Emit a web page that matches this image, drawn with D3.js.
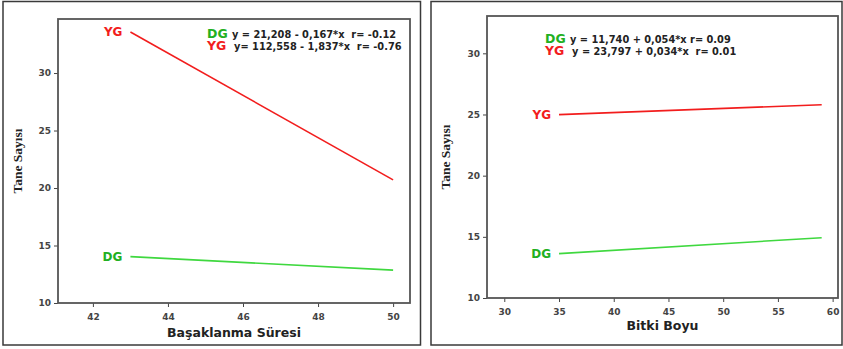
<!DOCTYPE html>
<html>
<head>
<meta charset="utf-8">
<script src="https://cdn.jsdelivr.net/npm/d3@7"></script>
<style>
  body { margin: 0; background: #fff; }
  svg { display: block; }
  .tick text { font-family: "DejaVu Sans", Verdana, sans-serif; font-weight: bold; font-size: 9px; fill: #444; }
  .tick line { stroke: #444; }
  .eq { white-space: pre; }
</style>
</head>
<body>
<svg id="chart" width="843" height="349"></svg>
<script>
// panel 1: Başaklanma Süresi
const leftXTicks = [42, 44, 46, 48, 50];
const leftYG = [[43, 33.57], [50, 20.71]];
const leftDG = [[43, 14.03], [50, 12.86]];
const leftEq = ['y = 21,208 - 0,167*x  r= -0.12', ' y= 112,558 - 1,837*x  r= -0.76'];

// panel 2: Bitki Boyu
const rightXTicks = [30, 35, 40, 45, 50, 55, 60];
const rightYG = [[35, 24.99], [59, 25.80]];
const rightDG = [[35, 13.63], [59, 14.93]];
const rightEq = ['y = 11,740 + 0,054*x r= 0.09', ' y = 23,797 + 0,034*x  r= 0.01'];

const yTicks = [10, 15, 20, 25, 30];
const red = '#f21d1d', green = '#3fd83f', greenText = '#22b022';

const svg = d3.select('#chart');

function panel(cfg) {
    const { frame, box, xDomain, yDomain, xTicks, yg, dg, eq, eqPos, xTitle, xTitleY, tickPad } = cfg;

    svg.append('rect')
        .attr('x', frame[0]).attr('y', frame[1])
        .attr('width', frame[2] - frame[0]).attr('height', frame[3] - frame[1])
        .attr('fill', 'none').attr('stroke', '#3a3a3a').attr('stroke-width', 1.5);

    const x = d3.scaleLinear().domain(xDomain).range([box[0], box[2]]);
    const y = d3.scaleLinear().domain(yDomain).range([box[3], box[1]]);

    svg.append('g')
        .attr('transform', `translate(0,${box[3]})`)
        .call(d3.axisBottom(x).tickValues(xTicks).tickSize(4).tickPadding(tickPad))
        .call(g => g.select('.domain').remove());

    svg.append('g')
        .attr('transform', `translate(${box[0]},0)`)
        .call(d3.axisLeft(y).tickValues(yTicks).tickSize(4).tickPadding(3))
        .call(g => g.select('.domain').remove());

    svg.append('rect')
        .attr('x', box[0]).attr('y', box[1])
        .attr('width', box[2] - box[0]).attr('height', box[3] - box[1])
        .attr('fill', 'none').attr('stroke', '#555').attr('stroke-width', 1.8);

    const line = d3.line().x(d => x(d[0])).y(d => y(d[1]));
    [[yg, red, 'YG', red], [dg, green, 'DG', greenText]].forEach(([pts, col, name, tcol]) => {
        svg.append('path').attr('d', line(pts))
            .attr('fill', 'none').attr('stroke', col).attr('stroke-width', 1.6);
        svg.append('text')
            .attr('x', x(pts[0][0]) - 8).attr('y', y(pts[0][1]) + 4)
            .attr('text-anchor', 'end')
            .attr('font-family', '"DejaVu Sans", Verdana, sans-serif')
            .attr('font-weight', 'bold').attr('font-size', 12)
            .attr('fill', tcol).text(name);
    });

    [['DG', greenText, eq[0]], ['YG', red, eq[1]]].forEach(([name, col, txt], i) => {
        const t = svg.append('text').attr('class', 'eq')
            .attr('x', eqPos[0]).attr('y', eqPos[1] + i * 12)
            .attr('font-family', '"DejaVu Sans", Verdana, sans-serif')
            .attr('font-weight', 'bold');
        t.append('tspan').attr('fill', col).attr('font-size', 12.5).text(name + ' ');
        t.append('tspan').attr('fill', '#222').attr('font-size', 9.8).text(txt);
    });

    svg.append('text')
        .attr('x', (box[0] + box[2]) / 2).attr('y', xTitleY)
        .attr('text-anchor', 'middle')
        .attr('font-family', '"DejaVu Sans", Verdana, sans-serif')
        .attr('font-weight', 'bold').attr('font-size', 12.5)
        .attr('fill', '#222').text(xTitle);

    svg.append('text')
        .attr('transform', `translate(${frame[0] + 19},${(box[1] + box[3]) / 2}) rotate(-90)`)
        .attr('text-anchor', 'middle')
        .attr('font-family', '"Liberation Serif", "Times New Roman", serif')
        .attr('font-weight', 'bold').attr('font-size', 13.5)
        .attr('fill', '#222').text('Tane Sayısı');
}

panel({
    frame: [3, 1.5, 420.5, 345],
    box: [58, 19, 410, 303],
    xDomain: [41.07, 50.45], yDomain: [10, 34.7],
    xTicks: leftXTicks, yg: leftYG, dg: leftDG,
    eq: leftEq, eqPos: [207, 38],
    xTitle: 'Başaklanma Süresi', xTitleY: 337, tickPad: 7
});

panel({
    frame: [431, 1.5, 842, 345],
    box: [487, 16, 838, 298],
    xDomain: [28.42, 60.49], yDomain: [10, 33.05],
    xTicks: rightXTicks, yg: rightYG, dg: rightDG,
    eq: rightEq, eqPos: [545, 43],
    xTitle: 'Bitki Boyu', xTitleY: 330, tickPad: 7
});
</script>
</body>
</html>
